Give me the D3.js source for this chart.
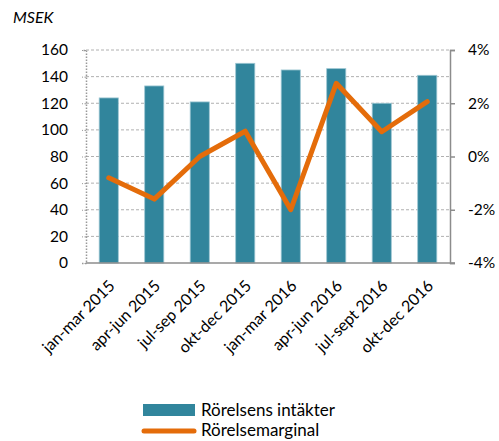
<!DOCTYPE html>
<html>
<head>
<meta charset="utf-8">
<script src="https://cdn.jsdelivr.net/npm/d3@7"></script>
<style>
  body { margin: 0; background: #fff; }
  svg text { font-family: Lato, "Open Sans", sans-serif; fill: #000; }
</style>
</head>
<body>
<svg id="chart" width="499" height="441"></svg>
<script>
// kvartal
const categories = ["jan-mar 2015", "apr-jun 2015", "jul-sep 2015", "okt-dec 2015",
                    "jan-mar 2016", "apr-jun 2016", "jul-sept 2016", "okt-dec 2016"];
// Rörelsens intäkter, MSEK
const intakter = [124, 133, 121, 150, 145, 146, 120, 141];
// Rörelsemarginal, %
const marginal = [-0.8, -1.6, 0.0, 0.95, -2.0, 2.75, 0.93, 2.06];
const leftTicks = [0, 20, 40, 60, 80, 100, 120, 140, 160];
const rightTicks = [-4, -2, 0, 2, 4];

const svg = d3.select("#chart");
const plotLeft = 86, plotRight = 450, plotTop = 50, plotBottom = 263;

const x = d3.scaleBand().domain(categories).range([plotLeft, plotRight]).paddingInner(0.58).paddingOuter(0.29);
const y = d3.scaleLinear().domain([0, 160]).range([plotBottom, plotTop]);
const y2 = d3.scaleLinear().domain([-4, 4]).range([plotBottom, plotTop]);

// gridlines
svg.append("g").selectAll("line")
  .data(leftTicks.filter(d => d > 0))
  .join("line")
  .attr("x1", plotLeft).attr("x2", plotRight)
  .attr("y1", d => y(d)).attr("y2", d => y(d))
  .attr("stroke", "#b0b0b0").attr("stroke-width", 1)
  .attr("stroke-dasharray", "3,2");

// left axis (dotted)
const yAxis = svg.append("g")
  .attr("transform", `translate(${plotLeft},0)`)
  .call(d3.axisLeft(y).tickValues(leftTicks).tickSize(4).tickPadding(14));
yAxis.select(".domain").attr("stroke", "#999").attr("stroke-dasharray", "1.5,1.5").attr("stroke-width", 1.5);
yAxis.selectAll(".tick line").attr("stroke", "#999").attr("stroke-dasharray", "1.5,1.5");
yAxis.selectAll("text").style("font-size", "15.5px");

// bars
svg.append("g").selectAll("rect")
  .data(intakter)
  .join("rect")
  .attr("x", (d, i) => x(categories[i]))
  .attr("width", x.bandwidth())
  .attr("y", d => y(d))
  .attr("height", d => plotBottom - y(d))
  .attr("fill", "#31859c")
  .attr("stroke", "#9cc6d2")
  .attr("stroke-width", 0.8);

// bottom axis line
svg.append("line")
  .attr("x1", plotLeft).attr("x2", plotRight + 5)
  .attr("y1", plotBottom).attr("y2", plotBottom)
  .attr("stroke", "#8c8c8c").attr("stroke-width", 1.5);

// right axis
const y2Axis = svg.append("g")
  .attr("transform", `translate(${plotRight},0)`)
  .call(d3.axisRight(y2).tickValues(rightTicks).tickSize(5).tickPadding(13).tickFormat(d => d + "%"));
y2Axis.select(".domain").attr("stroke", "#8c8c8c").attr("stroke-width", 1.5);
y2Axis.selectAll(".tick line").attr("stroke", "#8c8c8c").attr("stroke-width", 1.5);
y2Axis.selectAll("text").style("font-size", "15.5px");

// line
const line = d3.line()
  .x((d, i) => x(categories[i]) + x.bandwidth() / 2)
  .y(d => y2(d));
svg.append("path")
  .datum(marginal)
  .attr("d", line)
  .attr("fill", "none")
  .attr("stroke", "#e46c0a")
  .attr("stroke-width", 5)
  .attr("stroke-linejoin", "round")
  .attr("stroke-linecap", "round");

// x labels
svg.append("g").selectAll("text")
  .data(categories)
  .join("text")
  .attr("transform", d => `translate(${x(d) + x.bandwidth() / 2 + 3},${plotBottom + 20}) rotate(-45)`)
  .attr("text-anchor", "end")
  .attr("dy", "0.35em")
  .style("font-size", "16px")
  .text(d => d);

// unit
svg.append("text")
  .attr("x", 13).attr("y", 23)
  .style("font-size", "16px").style("font-style", "italic")
  .text("MSEK");

// legend
const lg = svg.append("g");
lg.append("rect").attr("x", 143).attr("y", 404).attr("width", 52).attr("height", 12).attr("fill", "#31859c");
lg.append("text").attr("x", 201).attr("y", 416).style("font-size", "17px").text("Rörelsens intäkter");
lg.append("line").attr("x1", 144).attr("x2", 194).attr("y1", 431).attr("y2", 431)
  .attr("stroke", "#e46c0a").attr("stroke-width", 5).attr("stroke-linecap", "round");
lg.append("text").attr("x", 201).attr("y", 436).style("font-size", "17px").text("Rörelsemarginal");
</script>
</body>
</html>
